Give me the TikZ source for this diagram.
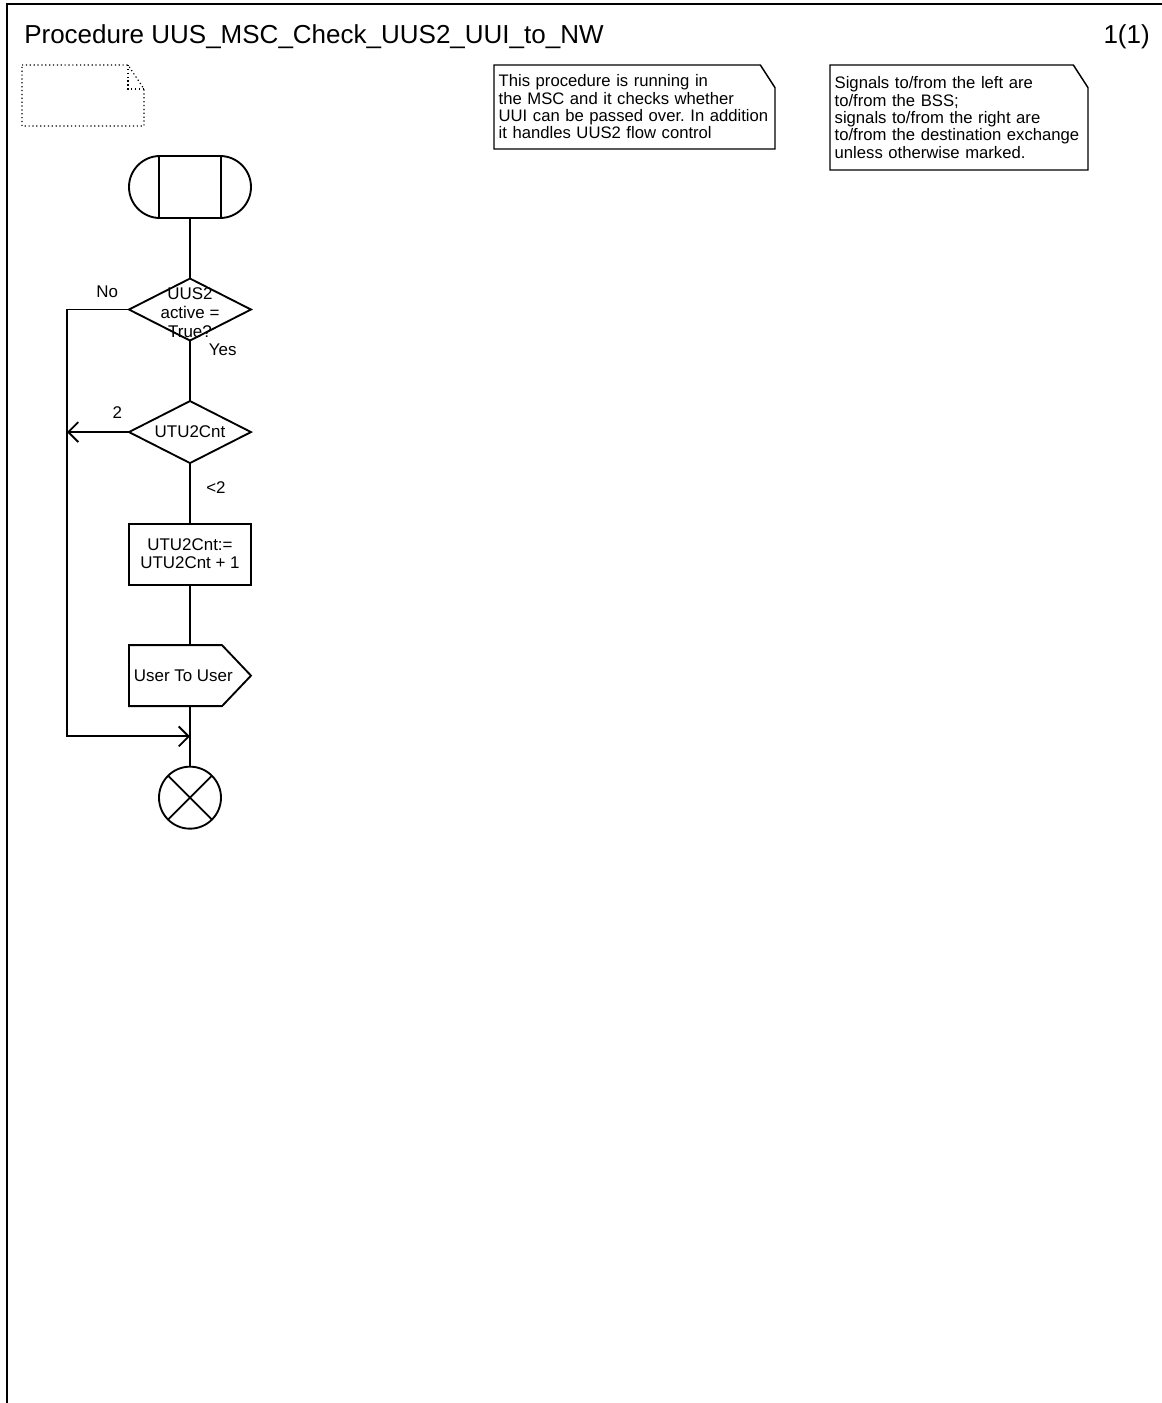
\documentclass[tikz,border=0pt]{standalone}
\usepackage{fontspec}
\setmainfont{Liberation Sans}
\usetikzlibrary{positioning,arrows.meta,shapes.geometric,shapes.misc,calc}
\frenchspacing
\hyphenpenalty=10000

\begin{document}
\begin{tikzpicture}[font=\fontsize{12.7}{13.5}\selectfont, node distance=45.4pt,
  flow/.style={line width=1.4pt},
  arr/.style={-{Straight Barb[length=7.5pt,width=15pt,line width=1.4pt]}},
  startbox/.style={draw, line width=1.4pt, rounded rectangle, minimum width=91.5pt, minimum height=46.5pt, inner sep=0pt, outer sep=0pt},
  decide/.style={draw, line width=1.4pt, diamond, minimum width=91.5pt, minimum height=46.5pt, inner sep=0pt, outer sep=0pt},
  task/.style={draw, line width=1.4pt, rectangle, align=center, minimum width=91.5pt, minimum height=45.75pt, inner sep=0pt, outer sep=0pt},
  sendbox/.style={rectangle, minimum width=91.5pt, minimum height=45.75pt, inner sep=0pt, outer sep=0pt},
  stopbox/.style={draw, line width=1.4pt, circle, minimum size=46.5pt, inner sep=0pt, outer sep=0pt},
  note/.style={anchor=north west, align=left, inner xsep=3.5pt, inner ysep=0pt, outer sep=0pt,
    font=\fontsize{12.5}{13}\selectfont},
  lbl/.style={inner sep=0pt}]
\useasboundingbox (0,0) rectangle (871.5pt,-1052.25pt);

% frame and heading
\draw[line width=1.7pt] (871.5pt,-3pt) -- (5.25pt,-3pt) -- (5.25pt,-1052.25pt);
\node[anchor=base west, inner sep=0pt, font=\fontsize{19.5}{22}\selectfont] (title) at (18pt,-32.25pt) {Procedure UUS\_MSC\_Check\_UUS2\_UUI\_to\_NW};
\node[anchor=base east, inner sep=0pt, font=\fontsize{19.5}{22}\selectfont] (page) at (862.5pt,-32.25pt) {1(1)};

% empty dotted comment
\draw[dotted, line width=0.9pt] (16.5pt,-48.75pt) -- (96pt,-48.75pt) -- (108pt,-66.75pt) -- (108pt,-94.5pt) -- (16.5pt,-94.5pt) -- cycle;
\draw[dotted, line width=0.9pt] (96pt,-48.75pt) -- (96pt,-66.75pt) -- (108pt,-66.75pt);

% comments
\node[note, text width=203.75pt, minimum height=63pt] (n1) at (370.5pt,-48.75pt)
  {This procedure is running in\\ the MSC and it checks whether\\ UUI can be passed over. In addition\\ it handles UUS2 flow control};
\node[note, text width=186.5pt, minimum height=78.75pt] (n2) at (622.5pt,-48.75pt)
  {Signals to/from the left are\\ to/from the BSS;\\ signals to/from the right are\\ to/from the destination exchange\\ unless otherwise marked.};
\foreach \n in {n1,n2} {\draw[line width=1.1pt] (\n.north west) -- ([xshift=-11pt]\n.north east) -- ([yshift=-17pt]\n.north east) -- (\n.south east) -- (\n.south west) -- cycle;}

% flow
\node[startbox] (start) at (142.5pt,-140.25pt) {};
\draw[flow] ($(start.center)+(-23.25pt,23.25pt)$) -- ($(start.center)+(-23.25pt,-23.25pt)$);
\draw[flow] ($(start.center)+(23.25pt,23.25pt)$) -- ($(start.center)+(23.25pt,-23.25pt)$);
\node[decide, below=of start, label={[align=center, font=\fontsize{12.7}{14.25}\selectfont, yshift=-2pt]center:UUS2\\ active =\\ True?}] (d1) {};
\node[decide, below=of d1, label=center:UTU2Cnt] (d2) {};
\node[task, below=of d2] (inc) {UTU2Cnt:=\\ UTU2Cnt + 1};
\node[sendbox, below=of inc, label={[xshift=-5pt]center:User To User}] (out) {};
\draw[flow] (out.north west) -- ([xshift=-21.75pt]out.north east) -- (out.east) -- ([xshift=-21.75pt]out.south east) -- (out.south west) -- cycle;
\node[stopbox, below=of out] (stop) {};
\draw[flow] (stop.north west) -- (stop.south east);
\draw[flow] (stop.north east) -- (stop.south west);
\coordinate (join) at ($(out.south)!0.5!(stop.north)$);

\foreach \x/\y in {start/d1,d1/d2,d2/inc,inc/out,out/stop} {\draw[flow] (\x) -- (\y);}
\draw[flow, arr] (d1.west) -- ++(-46.5pt,0) coordinate (lp) |- (join);
\draw[flow, arr] (d2.west) -- (d2.west -| lp);

% branch labels
\node[lbl, above left=9pt and 8pt of d1.west] (no) {No};
\node[lbl, below right=2pt and 14pt of d1.south] (yes) {Yes};
\node[lbl, above left=10pt and 5pt of d2.west] (two) {2};
\node[lbl, below right=14pt and 12pt of d2.south] (lt) {<2};
\end{tikzpicture}
\end{document}
